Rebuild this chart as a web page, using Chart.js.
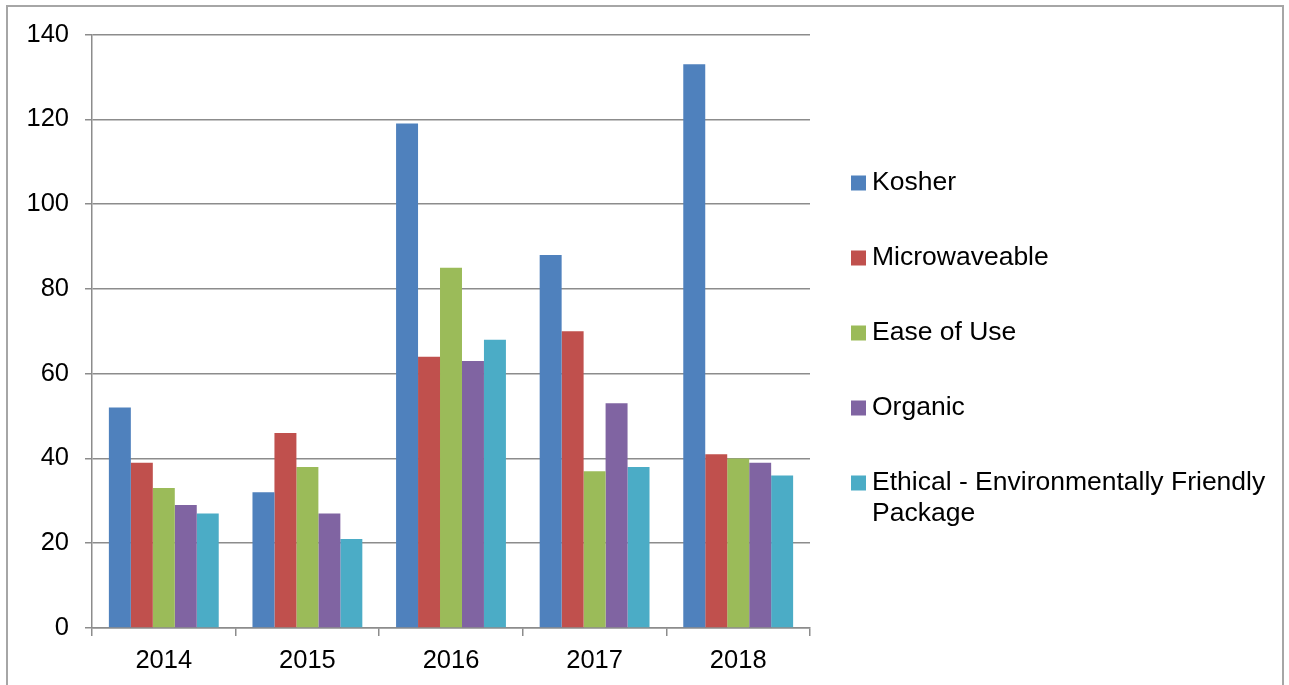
<!DOCTYPE html>
<html>
<head>
<meta charset="utf-8">
<script src="https://cdn.jsdelivr.net/npm/chart.js@4"></script>
<style>
  html, body { margin: 0; padding: 0; background: #fff; overflow: hidden; }
  #wrap { position: relative; width: 1289px; height: 685px; }
  #frame { position: absolute; left: 6px; top: 5px; width: 1278px; height: 720px; border: 2px solid #a6a6a6; box-sizing: border-box; }
  canvas { position: absolute; left: 0; top: 0; }
</style>
</head>
<body>
<div id="wrap">
  <div id="frame"></div>
  <canvas id="chart" width="1289" height="685"></canvas>
</div>
<script>
const years = ['2014', '2015', '2016', '2017', '2018'];
const seriesNames = ['Kosher', 'Microwaveable', 'Ease of Use', 'Organic', 'Ethical - Environmentally Friendly Package'];
const kosher = [52, 32, 119, 88, 133];
const microwaveable = [39, 46, 64, 70, 41];
const easeOfUse = [33, 38, 85, 37, 40];
const organic = [29, 27, 63, 53, 39];
const ethical = [27, 21, 68, 38, 36];
const colors = ['#4F81BD', '#C0504D', '#9BBB59', '#8064A2', '#4BACC6'];

const allValues = [kosher, microwaveable, easeOfUse, organic, ethical];
const fontName = '"Liberation Sans", Arial, sans-serif';

// legend drawn on the canvas so the long label can wrap like the original
const sideLegend = {
  id: 'sideLegend',
  afterDraw(chart) {
    const ctx = chart.ctx;
    ctx.save();
    ctx.font = '26.5px ' + fontName;
    ctx.textBaseline = 'middle';
    chart.data.datasets.forEach((ds, i) => {
      const y = 183 + i * 75;
      ctx.fillStyle = ds.backgroundColor;
      ctx.fillRect(851, y - 7.5, 15, 15);
      ctx.fillStyle = '#000';
      const words = ds.label.split(' ');
      let line = '';
      let lineY = y;
      words.forEach(w => {
        const test = line ? line + ' ' + w : w;
        if (ctx.measureText(test).width > 405 && line) {
          ctx.fillText(line, 872, lineY);
          line = w;
          lineY += 31;
        } else {
          line = test;
        }
      });
      ctx.fillText(line, 872, lineY);
    });
    ctx.restore();
  }
};

const ctx = document.getElementById('chart').getContext('2d');
const chart = new Chart(ctx, {
  type: 'bar',
  data: {
    labels: years,
    datasets: seriesNames.map((name, i) => ({
      label: name,
      data: allValues[i],
      backgroundColor: colors[i],
      borderWidth: 0,
      barPercentage: 1,
      categoryPercentage: 0.765
    }))
  },
  options: {
    responsive: false,
    animation: false,
    layout: { padding: { left: 0, top: 34.5, right: 479, bottom: 0 } },
    plugins: {
      legend: { display: false },
      tooltip: { enabled: false }
    },
    scales: {
      x: {
        grid: {
          offset: true,
          drawOnChartArea: false,
          drawTicks: true,
          tickLength: 8,
          color: '#8c8c8c',
          lineWidth: 1.5
        },
        border: { color: '#8c8c8c', width: 1.5 },
        ticks: { color: '#000', font: { family: fontName, size: 25.5 }, padding: 10 },
        afterFit: s => { s.height = 57; }
      },
      y: {
        min: 0,
        max: 140,
        ticks: { stepSize: 20, color: '#000', font: { family: fontName, size: 25.5 }, padding: 16 },
        grid: { color: '#8c8c8c', lineWidth: 1.5, tickLength: 7 },
        border: { color: '#8c8c8c', width: 1.5 },
        afterFit: s => { s.width = 92; }
      }
    }
  },
  plugins: [sideLegend]
});
</script>
</body>
</html>
